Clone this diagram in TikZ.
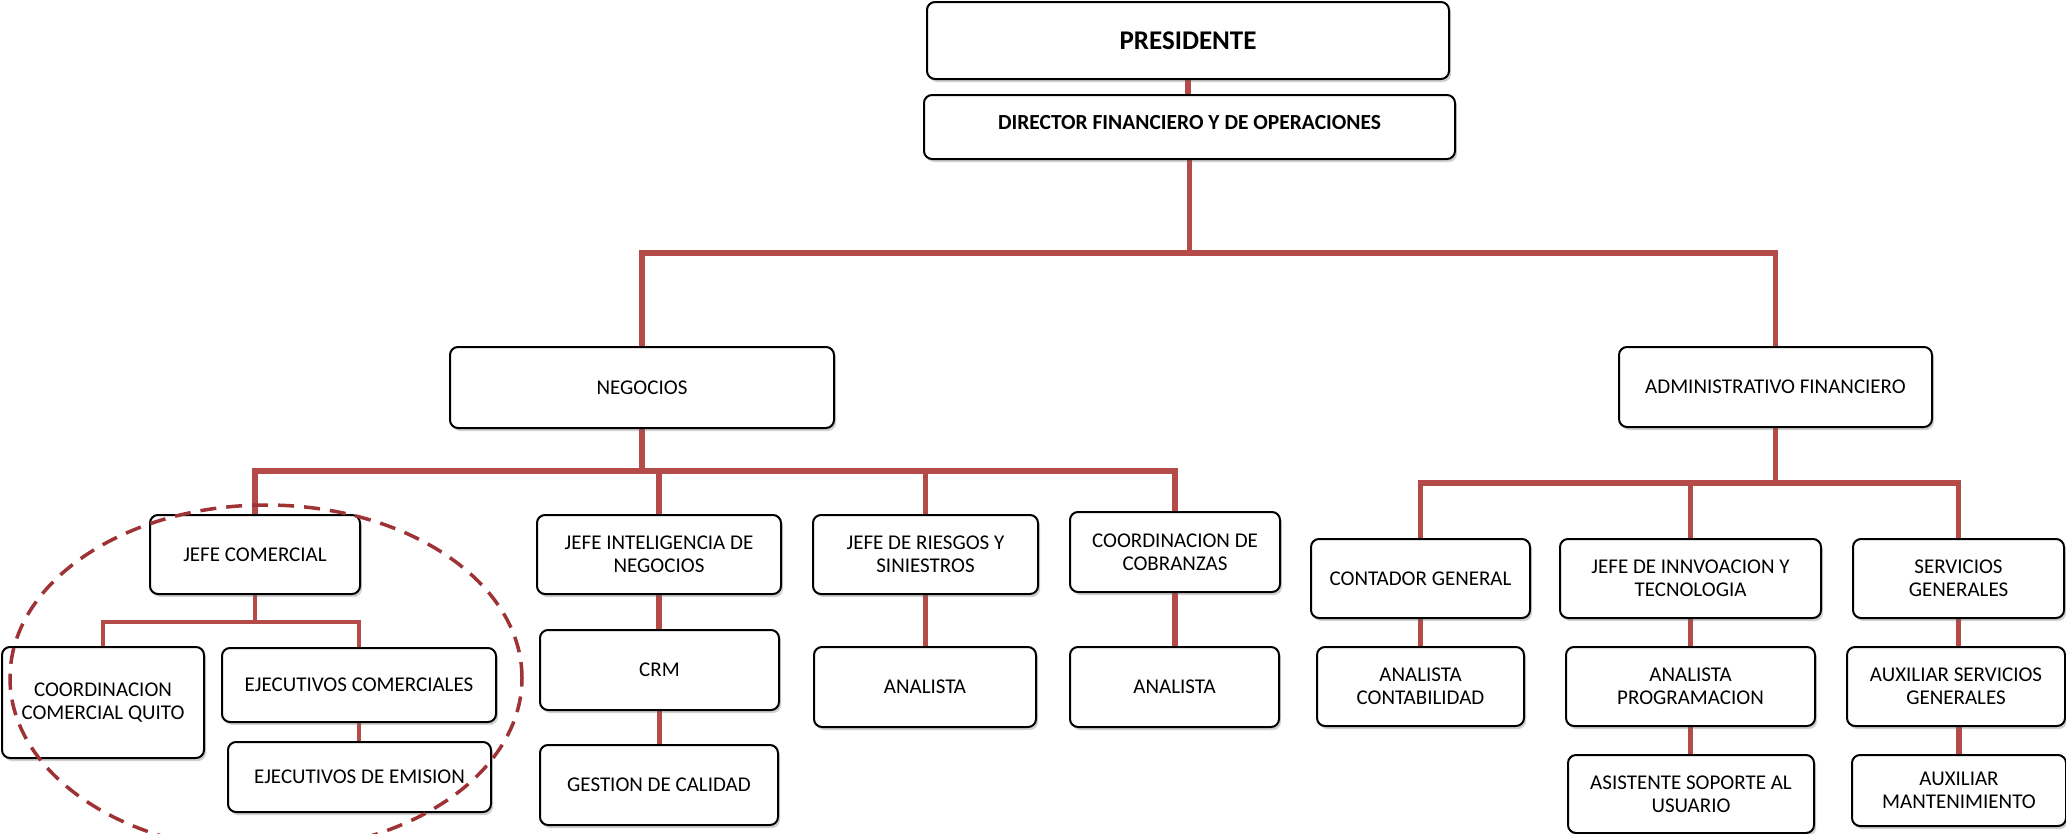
\documentclass[tikz,border=0pt]{standalone}
\usepackage{fontspec}
\setmainfont{Carlito}
\usetikzlibrary{shadows,backgrounds}
\definecolor{linkred}{RGB}{180,75,72}
\definecolor{ringred}{RGB}{158,50,52}
\begin{document}
\begin{tikzpicture}[x=1pt,y=-1pt,
  orgbox/.style={draw=black, line width=2pt, rounded corners=8pt, fill=white,
    drop shadow={shadow xshift=2pt, shadow yshift=-3pt, opacity=0.3, fill=black!60},
    align=center, inner sep=0pt, font=\fontsize{21}{23}\selectfont},
  link/.style={draw=linkred, line width=5.5pt},
  linkthin/.style={draw=linkred, line width=4.5pt},
  linkfine/.style={draw=linkred, line width=3.5pt},
  ring/.style={draw=ringred, line width=3.5pt, dash pattern=on 16pt off 10pt}
]
\useasboundingbox (0,0) rectangle (2066,833);

% top management
\node[orgbox, minimum width=522pt, minimum height=77pt,
      font=\bfseries\fontsize{27}{30}\selectfont] (pres) at (1188,40.5) {PRESIDENTE};
\node[orgbox, minimum width=531pt, minimum height=64pt,
      font=\bfseries\fontsize{21.5}{24}\selectfont] (dir) at (1189.5,127)
      {\raisebox{-2pt}[0pt][0pt]{DIRECTOR FINANCIERO Y DE OPERACIONES}};

% areas
\node[orgbox, minimum width=384pt, minimum height=81pt] (neg) at (642,387.5) {NEGOCIOS};
\node[orgbox, minimum width=313pt, minimum height=80pt] (adm) at (1775.5,387) {ADMINISTRATIVO FINANCIERO};

% business area
\node[orgbox, minimum width=210pt, minimum height=79pt] (jc)  at (255,554.5) {JEFE COMERCIAL};
\node[orgbox, minimum width=244pt, minimum height=79pt] (jin) at (659,554.5) {JEFE INTELIGENCIA DE\\NEGOCIOS};
\node[orgbox, minimum width=225pt, minimum height=79pt] (jrs) at (925.5,554.5) {JEFE DE RIESGOS Y\\SINIESTROS};
\node[orgbox, minimum width=210pt, minimum height=80pt] (cob) at (1175,552) {COORDINACION DE\\COBRANZAS};

\node[orgbox, minimum width=202pt, minimum height=111pt] (ccq) at (103,702.5) {COORDINACION\\COMERCIAL QUITO};
\node[orgbox, minimum width=274pt, minimum height=74pt] (ejc) at (359,685) {EJECUTIVOS COMERCIALES};
\node[orgbox, minimum width=263pt, minimum height=70pt] (eje) at (359.5,777) {EJECUTIVOS DE EMISION};

\node[orgbox, minimum width=239pt, minimum height=80pt] (crm) at (659.5,670) {CRM};
\node[orgbox, minimum width=238pt, minimum height=80pt] (gca) at (659,785) {GESTION DE CALIDAD};
\node[orgbox, minimum width=222pt, minimum height=80pt] (anr) at (925,687) {ANALISTA};
\node[orgbox, minimum width=209pt, minimum height=80pt] (anc) at (1174.5,687) {ANALISTA};

% administrative area
\node[orgbox, minimum width=219pt, minimum height=79pt] (con) at (1420.5,578.5) {CONTADOR GENERAL};
\node[orgbox, minimum width=261pt, minimum height=79pt] (jit) at (1690.5,578.5) {JEFE DE INNVOACION Y\\TECNOLOGIA};
\node[orgbox, minimum width=211pt, minimum height=79pt] (ser) at (1958.5,578.5) {SERVICIOS\\GENERALES};

\node[orgbox, minimum width=207pt, minimum height=79pt] (acon) at (1420.5,686.5) {ANALISTA\\CONTABILIDAD};
\node[orgbox, minimum width=249pt, minimum height=79pt] (apro) at (1690.5,686.5) {ANALISTA\\PROGRAMACION};
\node[orgbox, minimum width=218pt, minimum height=79pt] (aser) at (1956,686.5) {AUXILIAR SERVICIOS\\GENERALES};
\node[orgbox, minimum width=246pt, minimum height=78pt] (asis) at (1691,794) {ASISTENTE SOPORTE AL\\USUARIO};
\node[orgbox, minimum width=214pt, minimum height=71pt] (amant) at (1959,790.5) {AUXILIAR\\MANTENIMIENTO};

% bus levels
\coordinate (busA) at (0,253);
\coordinate (busN) at (0,471);
\coordinate (busJ) at (0,622);
\coordinate (busF) at (0,483);

\begin{scope}[on background layer]
  \draw[link] (pres.south) -- (pres.south |- dir.north);
  \draw[link] (dir.south) -- (dir.south |- busA);
  \draw[link] (neg.north) -- (neg.north |- busA) -- (adm.north |- busA) -- (adm.north);

  \draw[link] (neg.south) -- (neg.south |- busN);
  \draw[link] (jc.north) -- (jc.north |- busN) -- (cob.north |- busN) -- (cob.north);
  \draw[link] (jin.north) -- (jin.north |- busN);
  \draw[link] (jrs.north) -- (jrs.north |- busN);

  \draw[linkthin] (jc.south) -- (jc.south |- busJ);
  \draw[linkthin] (ccq.north) -- (ccq.north |- busJ) -- (ejc.north |- busJ) -- (ejc.north);
  \draw[linkfine] (ejc.south) -- (ejc.south |- eje.north);

  \draw[link] (jin.south) -- (jin.south |- crm.north);
  \draw[link] (crm.south) -- (crm.south |- gca.north);
  \draw[link] (jrs.south) -- (jrs.south |- anr.north);
  \draw[link] (cob.south) -- (cob.south |- anc.north);

  \draw[link] (adm.south) -- (adm.south |- busF);
  \draw[link] (con.north) -- (con.north |- busF) -- (ser.north |- busF) -- (ser.north);
  \draw[link] (jit.north) -- (jit.north |- busF);

  \draw[link] (con.south) -- (con.south |- acon.north);
  \draw[link] (jit.south) -- (jit.south |- apro.north);
  \draw[link] (apro.south) -- (apro.south |- asis.north);
  \draw[link] (ser.south) -- (ser.south |- aser.north);
  \draw[link] (amant.north) -- (amant.north |- aser.south);
\end{scope}

% dashed outline around the commercial team
\draw[ring] (266,678) ellipse [x radius=256pt, y radius=173pt];
\end{tikzpicture}
\end{document}
